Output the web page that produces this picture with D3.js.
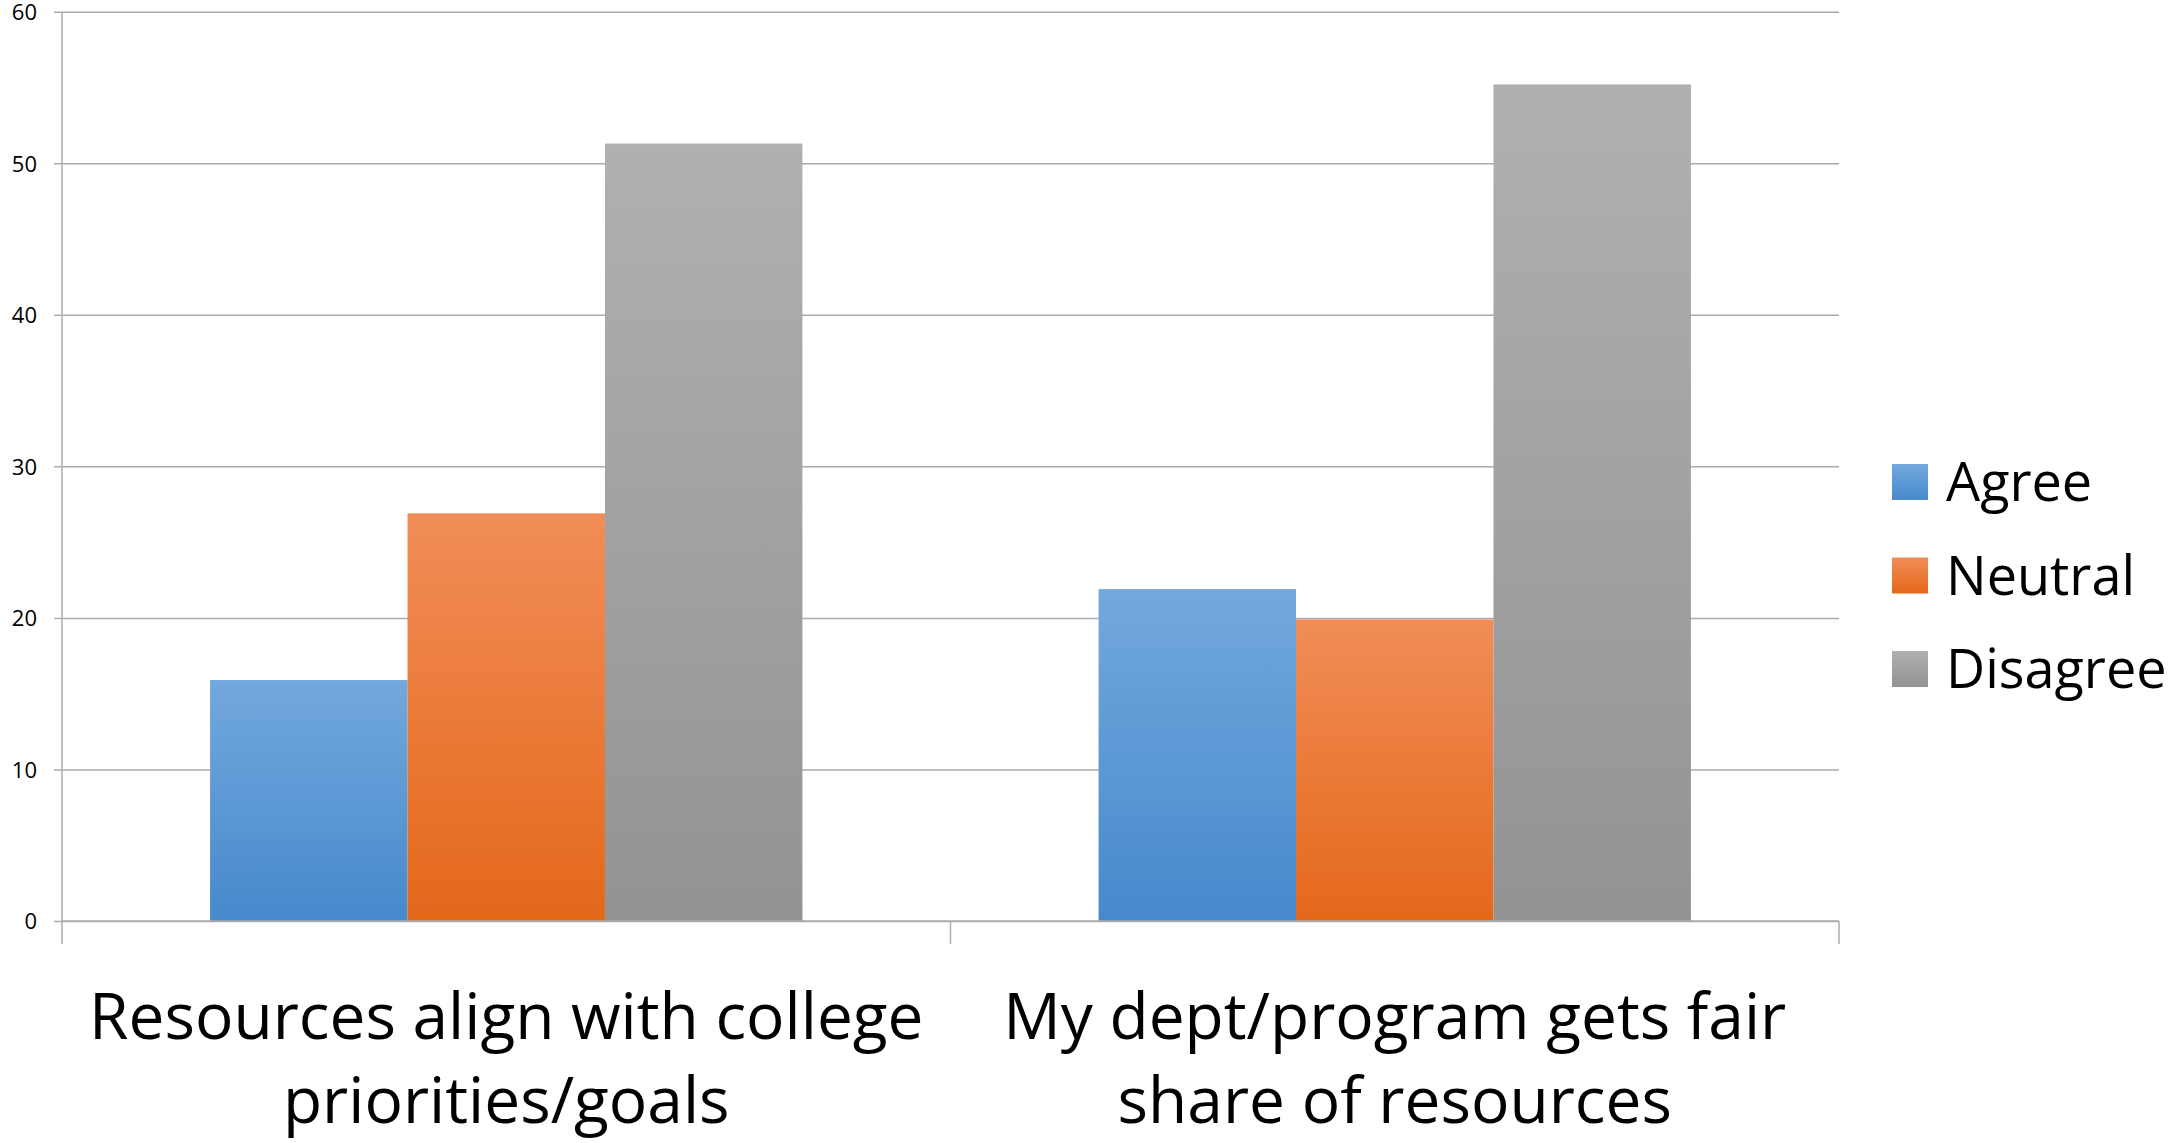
<!DOCTYPE html>
<html>
<head>
<meta charset="utf-8">
<script src="https://cdn.jsdelivr.net/npm/d3@7"></script>
<style>
  body { margin: 0; background: #fff; }
  svg { display: block; font-family: "Open Sans", sans-serif; }
</style>
</head>
<body>
<svg id="chart"></svg>
<script>
// chart data
const categories = ["Resources align with college\npriorities/goals", "My dept/program gets fair\nshare of resources"];
const seriesNames = ["Agree", "Neutral", "Disagree"];
const agreeValues = [15.9, 21.9];
const neutralValues = [26.9, 19.9];
const disagreeValues = [51.3, 55.2];
const yTicks = [0, 10, 20, 30, 40, 50, 60];

const seriesValues = [agreeValues, neutralValues, disagreeValues];
const colors = {
    Agree: ["#73a8de", "#4689cc"],
    Neutral: ["#f18d58", "#e4681a"],
    Disagree: ["#b0b0b0", "#939393"]
};

let width = 2172, height = 1143;
let padding = { top: 11.7, right: 333, bottom: 222, left: 62 };
let fontFamily = "'Open Sans', sans-serif";

let svg = d3.select("#chart")
    .attr("width", width)
    .attr("height", height);

let defs = svg.append("defs");
seriesNames.forEach(s => {
    let g = defs.append("linearGradient")
        .attr("id", "grad-" + s)
        .attr("x1", 0).attr("y1", 0).attr("x2", 0).attr("y2", 1);
    g.append("stop").attr("offset", "0%").attr("stop-color", colors[s][0]);
    g.append("stop").attr("offset", "100%").attr("stop-color", colors[s][1]);
});

let xScale = d3.scaleBand()
    .domain(categories)
    .range([padding.left, width - padding.right])
    .paddingInner(0)
    .paddingOuter(0);

let xInner = d3.scaleBand()
    .domain(seriesNames)
    .range([0, xScale.bandwidth()])
    .paddingInner(0)
    .paddingOuter(0.75);

let yScale = d3.scaleLinear()
    .domain([0, 60])
    .range([height - padding.bottom, padding.top]);

let y0 = yScale(0);
let gridColor = "#acacac";

// gridlines + y ticks
let yAxis = d3.axisLeft(yScale)
    .tickValues(yTicks)
    .tickSize(-(width - padding.right - padding.left))
    .tickFormat(d3.format("d"));

let yg = svg.append("g")
    .attr("transform", "translate(" + padding.left + ",0)")
    .call(yAxis);
yg.select(".domain").remove();
yg.selectAll(".tick line")
    .attr("x1", -8)
    .attr("stroke", gridColor)
    .attr("stroke-width", 1.5);
yg.selectAll(".tick text")
    .attr("x", -25)
    .attr("dy", "0.36em")
    .style("font-size", "22px")
    .style("font-family", fontFamily)
    .attr("fill", "#000");

// bars
let rows = [];
categories.forEach((c, i) => {
    seriesNames.forEach((s, j) => {
        rows.push({ category: c, series: s, value: seriesValues[j][i] });
    });
});

svg.append("g")
    .selectAll("rect")
    .data(rows)
    .enter()
    .append("rect")
    .attr("x", d => xScale(d.category) + xInner(d.series))
    .attr("width", xInner.bandwidth())
    .attr("y", d => yScale(d.value))
    .attr("height", d => y0 - yScale(d.value))
    .attr("fill", d => "url(#grad-" + d.series + ")");

// axis lines
svg.append("line")
    .attr("x1", padding.left).attr("x2", padding.left)
    .attr("y1", padding.top).attr("y2", y0 + 23)
    .attr("stroke", gridColor).attr("stroke-width", 1.5);
svg.append("line")
    .attr("x1", padding.left).attr("x2", width - padding.right)
    .attr("y1", y0).attr("y2", y0)
    .attr("stroke", gridColor).attr("stroke-width", 1.5);

let boundaries = categories.map(c => xScale(c)).concat([xScale.range()[1]]);
svg.append("g")
    .selectAll("line")
    .data(boundaries.slice(1))
    .enter()
    .append("line")
    .attr("x1", d => d).attr("x2", d => d)
    .attr("y1", y0).attr("y2", y0 + 23)
    .attr("stroke", gridColor).attr("stroke-width", 1.5);

// category labels
let labels = svg.append("g")
    .selectAll("text")
    .data(categories)
    .enter()
    .append("text")
    .attr("text-anchor", "middle")
    .style("font-size", "64px")
    .attr("fill", "#000");

labels.each(function(d) {
    let cx = xScale(d) + xScale.bandwidth() / 2;
    d.split("\n").forEach((line, i) => {
        d3.select(this).append("tspan")
            .attr("x", cx)
            .attr("y", 1039 + i * 84)
            .text(line);
    });
});

// legend
let legend = svg.append("g")
    .attr("transform", "translate(1892, 464)");

let item = legend.selectAll("g")
    .data(seriesNames)
    .enter()
    .append("g")
    .attr("transform", (d, i) => "translate(0," + (i * 93.5) + ")");

item.append("rect")
    .attr("width", 36)
    .attr("height", 36)
    .attr("fill", d => "url(#grad-" + d + ")");

item.append("text")
    .attr("x", 54)
    .attr("y", 37)
    .style("font-size", "54px")
    .attr("fill", "#000")
    .text(d => d);
</script>
</body>
</html>
